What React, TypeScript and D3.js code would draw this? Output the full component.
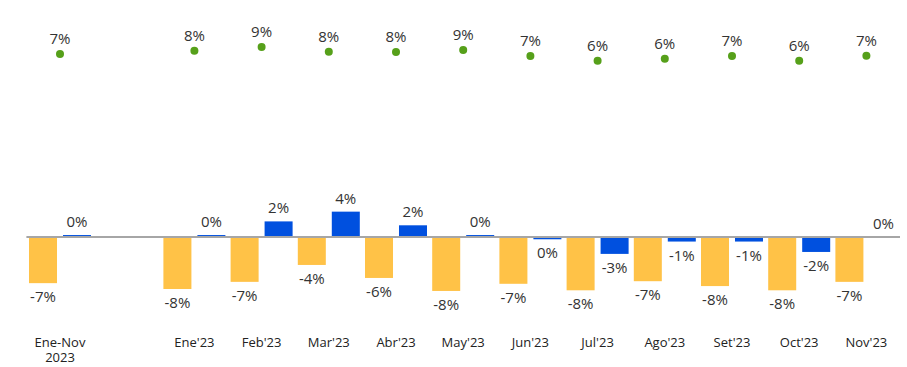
import React from "react";
import * as d3 from "d3";

const categories = ["Ene-Nov\n2023", "", "Ene'23", "Feb'23", "Mar'23", "Abr'23", "May'23", "Jun'23", "Jul'23", "Ago'23", "Set'23", "Oct'23", "Nov'23"];
const yellowValues: (number | null)[] = [-7.1, null, -8.0, -6.9, -4.3, -6.3, -8.3, -7.2, -8.2, -6.8, -7.55, -8.2, -6.9];
const blueValues: (number | null)[] = [0.3, null, 0.3, 2.4, 3.9, 1.8, 0.3, -0.35, -2.6, -0.7, -0.7, -2.3, 0.0];
const greenValues: (number | null)[] = [7.46, null, 8.4, 9.46, 8.11, 8.03, 8.6, 6.89, 5.54, 6.11, 6.89, 5.54, 6.97];

const W = 907;
const H = 367;
const YELLOW = "#FFC247";
const BLUE = "#0050DF";
const GREEN = "#56A01A";
const TEXT = "#333333";
const FONT = "'Open Sans', sans-serif";

export default function App() {
  const x = d3.scaleBand<string>().domain(categories.map((_, i) => String(i))).range([26.4, 900]).paddingInner(0).paddingOuter(0);
  const sub = d3.scaleBand<string>().domain(["y", "b"]).range([2.6, x.bandwidth() - 2.6]).paddingInner(0.176).paddingOuter(0);
  const yBar = d3.scaleLinear().domain([-9, 5]).range([237 + 9 * 6.5, 237 - 5 * 6.5]);
  const yDot = d3.scaleLinear().domain([0, 10]).range([80.1, 45.1]);
  const fmt = (v: number) => `${Math.round(v) === 0 ? 0 : Math.round(v)}%`;

  const bars: React.ReactNode[] = [];
  const labels: React.ReactNode[] = [];
  const series: [string, (number | null)[], string][] = [["y", yellowValues, YELLOW], ["b", blueValues, BLUE]];
  categories.forEach((c, i) => {
    const x0 = x(String(i))!;
    series.forEach(([key, vals, color]) => {
      const v = vals[i];
      if (v === null) return;
      const bx = x0 + sub(key)!;
      const y0 = yBar(0);
      const y1 = yBar(v);
      const top = Math.min(y0, y1);
      const h = Math.abs(y1 - y0);
      bars.push(<rect key={`${key}${i}`} x={bx} y={top} width={sub.bandwidth()} height={h} fill={color} />);
      const cx = bx + sub.bandwidth() / 2;
      const neg = v < 0;
      labels.push(
        <text key={`l${key}${i}`} x={cx} y={neg ? y1 + 19 : y1 - 8} textAnchor="middle" fontSize={15} fontWeight={500} fill={TEXT} fontFamily={FONT}>
          {fmt(v)}
        </text>
      );
    });
  });

  return (
    <svg width={W} height={H} style={{ position: "absolute", left: 0, top: 0 }}>
      <rect width={W} height={H} fill="#fff" />
      {bars}
      <line x1={x.range()[0]} x2={x.range()[1]} y1={yBar(0)} y2={yBar(0)} stroke="#A6A6A6" strokeWidth={2} />
      {labels}
      {categories.map((c, i) => {
        const v = greenValues[i];
        if (v === null) return null;
        const cx = x(String(i))! + x.bandwidth() / 2;
        return (
          <g key={`g${i}`}>
            <circle cx={cx} cy={yDot(v)} r={4} fill={GREEN} />
            <text x={cx} y={yDot(v) - 10} textAnchor="middle" fontSize={15} fontWeight={500} fill={TEXT} fontFamily={FONT}>
              {fmt(v)}
            </text>
          </g>
        );
      })}
      {categories.map((c, i) => {
        const cx = x(String(i))! + x.bandwidth() / 2;
        return c.split("\n").map((line, j) => (
          <text key={`x${i}-${j}`} x={cx} y={346.5 + j * 15} textAnchor="middle" fontSize={13} fill="#222" fontFamily={FONT}>
            {line}
          </text>
        ));
      })}
    </svg>
  );
}
